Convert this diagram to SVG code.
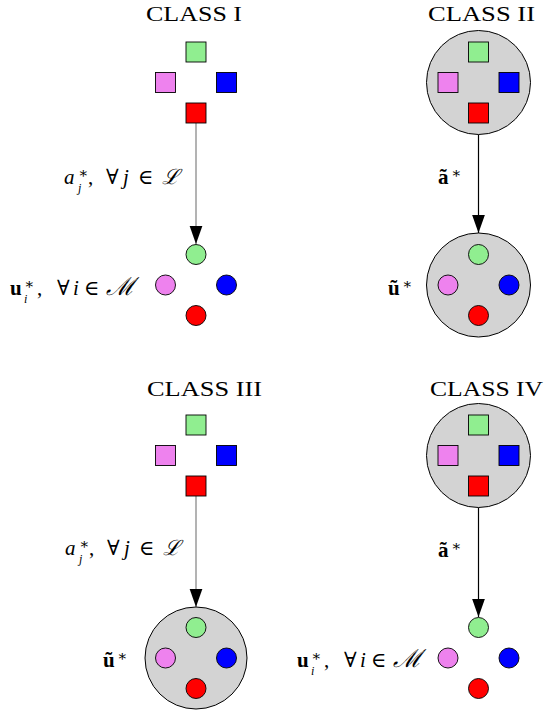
<svg xmlns="http://www.w3.org/2000/svg" width="559" height="712" viewBox="0 0 559 712">
<style>
text{font-family:"Liberation Serif","DejaVu Serif",serif;fill:#000}
.title{font-size:22px;text-anchor:middle}
.m{font-size:21px}
.s{font-size:12px}
.st{font-size:15px}
.it{font-style:italic}
.bf{font-weight:bold}
.sq{stroke:#000;stroke-width:0.9}
.dot{stroke:#000;stroke-width:0.9}
.grp{fill:#d3d3d3;stroke:#000;stroke-width:1}
.g{fill:#90ee90}.v{fill:#ee82ee}.b{fill:#0000ff}.r{fill:#ff0000}
.ln{stroke-width:1.2;fill:none}
</style>
<defs>
<marker id="ah" markerUnits="userSpaceOnUse" markerWidth="14" markerHeight="18" refX="6" refY="17" orient="0" viewBox="0 0 12 17">
<path d="M0,0 L12,0 L6,17 Z" fill="#000"/>
</marker>
<g id="sqs">
<rect class="sq g" x="-10" y="-40.5" width="20" height="20"/>
<rect class="sq v" x="-40.5" y="-10" width="20" height="20"/>
<rect class="sq b" x="20.5" y="-10" width="20" height="20"/>
<rect class="sq r" x="-10" y="20.5" width="20" height="20"/>
</g>
<g id="dots">
<circle class="dot g" cx="0" cy="-30.5" r="10"/>
<circle class="dot v" cx="-30.5" cy="0" r="10"/>
<circle class="dot b" cx="30.5" cy="0" r="10"/>
<circle class="dot r" cx="0" cy="30.5" r="10"/>
</g>
</defs>

<g id="titles">
<text class="title" x="194" y="21" textLength="96" lengthAdjust="spacingAndGlyphs">CLASS I</text>
<text class="title" x="481.5" y="21" textLength="107" lengthAdjust="spacingAndGlyphs">CLASS II</text>
<text class="title" x="204.5" y="396" textLength="115" lengthAdjust="spacingAndGlyphs">CLASS III</text>
<text class="title" x="486.5" y="396" textLength="113" lengthAdjust="spacingAndGlyphs">CLASS IV</text>
</g>

<g id="connectors">
<line class="ln" x1="196" y1="123" x2="196" y2="244" stroke="#808080" marker-end="url(#ah)"/>
<line class="ln" x1="478.5" y1="134.5" x2="478.5" y2="233" stroke="#000" marker-end="url(#ah)"/>
<line class="ln" x1="196" y1="496" x2="196" y2="607" stroke="#808080" marker-end="url(#ah)"/>
<line class="ln" x1="478.5" y1="507.5" x2="478.5" y2="617" stroke="#000" marker-end="url(#ah)"/>
</g>

<g id="class1-source"><use href="#sqs" x="196" y="82.5"/></g>
<g id="class1-target"><use href="#dots" x="196" y="285"/></g>

<g id="class2-source"><circle class="grp" cx="478.5" cy="82.5" r="52"/><use href="#sqs" x="478.5" y="82.5"/></g>
<g id="class2-target"><circle class="grp" cx="478.5" cy="285" r="52"/><use href="#dots" x="478.5" y="285"/></g>

<g id="class3-source"><use href="#sqs" x="196" y="455.5"/></g>
<g id="class3-target"><circle class="grp" cx="196" cy="658" r="51"/><use href="#dots" x="196" y="658"/></g>

<g id="class4-source"><circle class="grp" cx="478.5" cy="455.5" r="52"/><use href="#sqs" x="478.5" y="455.5"/></g>
<g id="class4-target"><use href="#dots" x="478.5" y="658"/></g>

<g id="labels">
<g id="lab-a1">
<text class="m it" x="64" y="184">a</text>
<text class="st" x="78" y="178">∗</text>
<text class="s it" x="78" y="192">j</text>
<text class="m" x="88" y="184">,</text>
<text class="m" x="106" y="184">∀</text>
<text class="m it" x="123" y="184">j</text>
<text class="m" x="138" y="184">∈</text>
<text class="m it" x="162" y="184">ℒ</text>
</g>
<g id="lab-a3" transform="translate(1,371)">
<text class="m it" x="64" y="184">a</text>
<text class="st" x="78" y="178">∗</text>
<text class="s it" x="78" y="192">j</text>
<text class="m" x="88" y="184">,</text>
<text class="m" x="106" y="184">∀</text>
<text class="m it" x="123" y="184">j</text>
<text class="m" x="138" y="184">∈</text>
<text class="m it" x="162" y="184">ℒ</text>
</g>
<g id="lab-u1">
<text class="m bf" x="10" y="295">u</text>
<text class="st" x="24" y="289">∗</text>
<text class="s it" x="24" y="303">i</text>
<text class="m" x="37" y="295">,</text>
<text class="m" x="57" y="295">∀</text>
<text class="m it" x="73" y="295">i</text>
<text class="m" x="84" y="295">∈</text>
<text class="it" style="font-size:25px" x="106" y="295">ℳ</text>
</g>
<g id="lab-u4" transform="translate(287,372)">
<text class="m bf" x="10" y="295">u</text>
<text class="st" x="24" y="289">∗</text>
<text class="s it" x="24" y="303">i</text>
<text class="m" x="37" y="295">,</text>
<text class="m" x="57" y="295">∀</text>
<text class="m it" x="73" y="295">i</text>
<text class="m" x="84" y="295">∈</text>
<text class="it" style="font-size:25px" x="106" y="295">ℳ</text>
</g>
<g id="lab-at2">
<text class="m bf" x="438" y="184">ã</text>
<text class="st" x="451" y="178">∗</text>
</g>
<g id="lab-ut2">
<text class="m bf" x="388" y="295">ũ</text>
<text class="st" x="402" y="289">∗</text>
</g>
<g id="lab-ut3">
<text class="m bf" x="103" y="667">ũ</text>
<text class="st" x="117" y="661">∗</text>
</g>
<g id="lab-at4">
<text class="m bf" x="438" y="557">ã</text>
<text class="st" x="451" y="551">∗</text>
</g>
</g>
</svg>
